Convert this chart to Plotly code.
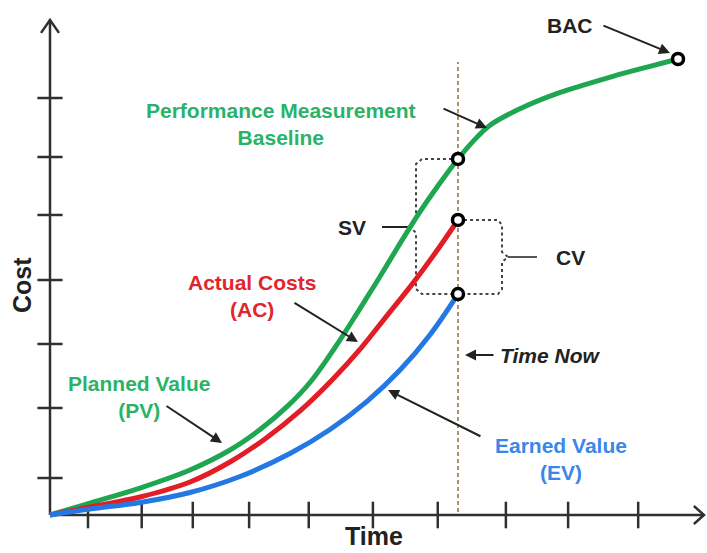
import plotly.graph_objects as go

# ---- data -------------------------------------------------------------
# Planned value / performance measurement baseline (time, cost)
pv_time = [0, 6.11, 13.74, 21.37, 27.48, 32.06, 36.18, 39.69, 43.51, 46.87, 50.08,
           53.13, 56.18, 59.24, 62.29, 64.73, 67.18, 71.76, 76.34, 80.92, 85.95,
           91.15, 95.88]
pv_cost = [0, 2.42, 5.45, 9.09, 13.13, 17.25, 21.88, 26.77, 33.84, 40.73, 47.52,
           54.18, 60.65, 66.51, 71.92, 75.68, 78.75, 82.08, 84.63, 86.63, 88.63,
           90.49, 92.12]

# Actual costs up to "time now"
ac_time = [0, 6.11, 13.74, 21.37, 27.48, 32.82, 38.17, 43.21, 47.48, 51.45,
           55.27, 58.78, 62.29]
ac_cost = [0, 1.62, 3.64, 6.67, 10.71, 15.37, 21.03, 27.49, 33.72, 40.28,
           46.59, 52.87, 59.60]

# Earned value up to "time now"
ev_time = [0, 6.11, 13.74, 21.37, 29.01, 36.64, 42.75, 48.40, 53.44, 58.02, 62.29]
ev_cost = [0, 1.21, 2.53, 4.55, 7.78, 12.42, 17.27, 22.95, 29.28, 36.43, 44.64]

time_now = 62.29
time_ticks = [5.8, 14.0, 21.8, 30.4, 39.5, 49.3, 59.2, 69.6, 79.1, 89.8]
cost_ticks = [7.47, 21.62, 34.55, 47.47, 60.61, 72.32, 84.24]

# ---- styles -------------------------------------------------------------
AXIS = "#303030"
GREEN, GREEN_TXT = "#1ea650", "#2ab368"
RED, RED_TXT = "#e31d25", "#e0262d"
BLUE, BLUE_TXT = "#2478e4", "#3a87e8"
DARK = "#222222"
FONT = "Liberation Sans, Arial, sans-serif"

i_now = pv_time.index(time_now)
pv_now = pv_cost[i_now]
ac_now = ac_cost[-1]
ev_now = ev_cost[-1]

fig = go.Figure()

# axes with arrow tips
fig.add_trace(go.Scatter(x=[0, 0], y=[0, 100], mode="lines",
                         line=dict(color=AXIS, width=2.5), hoverinfo="skip"))
fig.add_trace(go.Scatter(x=[0, 99.85], y=[0, 0], mode="lines",
                         line=dict(color=AXIS, width=2.5), hoverinfo="skip"))
fig.add_trace(go.Scatter(x=[-1.37, 0, 1.37], y=[97.4, 100, 97.4], mode="lines",
                         line=dict(color=AXIS, width=2.5), hoverinfo="skip"))
fig.add_trace(go.Scatter(x=[98.3, 99.85, 98.3], y=[1.82, 0, -1.82], mode="lines",
                         line=dict(color=AXIS, width=2.5), hoverinfo="skip"))

# tick marks crossing the axes
fig.add_trace(go.Scatter(x=time_ticks, y=[0] * len(time_ticks), mode="markers",
                         marker=dict(symbol="line-ns", size=19,
                                     line=dict(color=AXIS, width=2.5)),
                         hoverinfo="skip"))
fig.add_trace(go.Scatter(x=[0] * len(cost_ticks), y=cost_ticks, mode="markers",
                         marker=dict(symbol="line-ew", size=18,
                                     line=dict(color=AXIS, width=2.5)),
                         hoverinfo="skip"))

# time-now line
fig.add_trace(go.Scatter(x=[time_now, time_now], y=[0.6, 91.5], mode="lines",
                         line=dict(color="#a8916c", width=2, dash="4px,3px"),
                         hoverinfo="skip"))

# variance braces (SV on the left, CV on the right)
sv_x = [time_now, 56.8, 55.88, 55.88, 54.96, 55.88, 55.88, 56.8, time_now]
sv_y = [pv_now, pv_now, pv_now - 1.0, 59.4, 58.18, 57.0, ev_now + 1.0, ev_now, ev_now]
fig.add_trace(go.Scatter(x=sv_x, y=sv_y, mode="lines",
                         line=dict(color="#444", width=2, dash="dot"),
                         hoverinfo="skip"))
cv_x = [time_now, 68.4, 69.01, 69.01, 69.92, 69.01, 69.01, 68.4, time_now]
cv_y = [ac_now, ac_now, ac_now - 1.0, 53.13, 52.12, 51.11, ev_now + 1.0, ev_now, ev_now]
fig.add_trace(go.Scatter(x=cv_x, y=cv_y, mode="lines",
                         line=dict(color="#444", width=2, dash="dot"),
                         hoverinfo="skip"))
fig.add_trace(go.Scatter(x=[50.69, 54.96], y=[58.18, 58.18], mode="lines",
                         line=dict(color=DARK, width=2), hoverinfo="skip"))
fig.add_trace(go.Scatter(x=[69.92, 74.35], y=[52.12, 52.12], mode="lines",
                         line=dict(color="#555", width=2), hoverinfo="skip"))

# the three curves
fig.add_trace(go.Scatter(x=pv_time, y=pv_cost, mode="lines", name="PV",
                         line=dict(color=GREEN, width=5, shape="spline", smoothing=1)))
fig.add_trace(go.Scatter(x=ac_time, y=ac_cost, mode="lines", name="AC",
                         line=dict(color=RED, width=5, shape="spline", smoothing=1)))
fig.add_trace(go.Scatter(x=ev_time, y=ev_cost, mode="lines", name="EV",
                         line=dict(color=BLUE, width=5, shape="spline", smoothing=1)))

# open circles at time now and at BAC
fig.add_trace(go.Scatter(x=[time_now, time_now, time_now, pv_time[-1]],
                         y=[pv_now, ac_now, ev_now, pv_cost[-1]], mode="markers",
                         marker=dict(symbol="circle", size=11, color="white",
                                     line=dict(color="black", width=3.5)),
                         hoverinfo="skip"))


def label(text, x, y, color, size=21, style="normal", angle=0):
    fig.add_annotation(x=x, y=y, xref="x", yref="y", text=text, showarrow=False,
                       textangle=angle, align="center",
                       font=dict(family=FONT, size=size, color=color,
                                 weight="bold", style=style))


def arrow(x0, y0, x1, y1, color=DARK):
    fig.add_annotation(x=x1, y=y1, ax=x0, ay=y0, xref="x", yref="y",
                       axref="x", ayref="y", text="", showarrow=True,
                       arrowhead=2, arrowsize=1.1, arrowwidth=2, arrowcolor=color)


label("BAC", 79.39, 98.99, DARK)
label("Performance Measurement<br>Baseline", 35.27, 79.09, GREEN_TXT)
label("Actual Costs<br>(AC)", 30.84, 44.24, RED_TXT)
label("Planned Value<br>(PV)", 13.59, 23.74, GREEN_TXT)
label("Earned Value<br>(EV)", 78.02, 11.31, BLUE_TXT)
label("SV", 46.11, 58.18, DARK)
label("CV", 79.54, 52.12, DARK)
label("Time Now", 76.34, 32.32, DARK, style="italic")
label("Cost", -4.27, 46.46, DARK, size=25, angle=-90)
label("Time", 49.47, -4.24, DARK, size=25)

arrow(84.27, 98.99, 94.66, 93.33)
arrow(59.85, 82.22, 66.72, 78.18)
arrow(37.10, 43.03, 47.02, 34.95)
arrow(17.56, 22.22, 26.26, 14.55)
arrow(65.95, 15.76, 51.60, 25.25)
arrow(67.94, 32.32, 63.36, 32.32)

fig.update_layout(
    width=707, height=553, autosize=False,
    margin=dict(l=0, r=0, t=0, b=0, pad=0),
    paper_bgcolor="white", plot_bgcolor="white",
    showlegend=False,
    xaxis=dict(range=[-7.634, 100.305], visible=False, fixedrange=True),
    yaxis=dict(range=[-7.677, 104.04], visible=False, fixedrange=True),
)

fig.write_html("out.html")
